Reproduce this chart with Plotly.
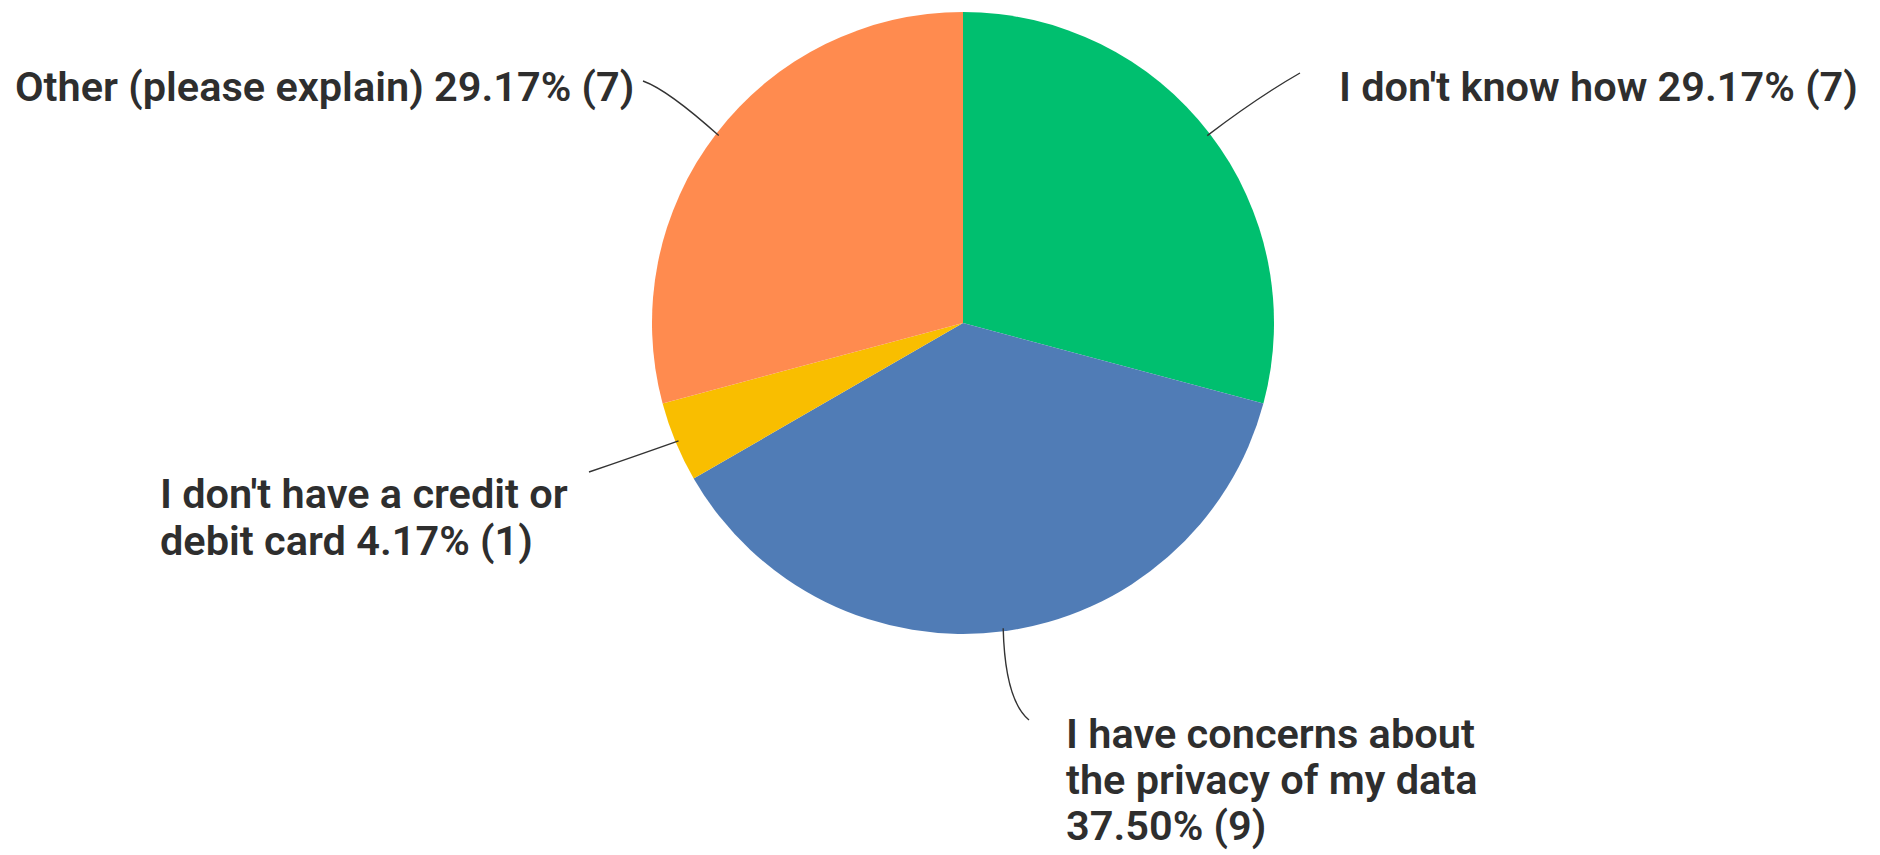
import math
import plotly.graph_objects as go

# Survey answers, in clockwise order starting at 12 o'clock
answers = [
    "I don't know how",
    "I have concerns about the privacy of my data",
    "I don't have a credit or debit card",
    "Other (please explain)",
]
counts = [7, 9, 1, 7]
percents = [29.17, 37.50, 4.17, 29.17]

# label text broken into the lines it is drawn on
label_lines = [
    ["I don't know how 29.17% (7)"],
    ["I have concerns about", "the privacy of my data", "37.50% (9)"],
    ["I don't have a credit or", "debit card 4.17% (1)"],
    ["Other (please explain) 29.17% (7)"],
]

colors = ["#00BF6F", "#507CB6", "#F9BE00", "#FF8B4F"]

W, H = 1880, 855
CX, CY, R = 963, 323, 311  # pie centre and radius in pixels
LINE_GAP = 46              # distance between label lines in pixels

FONT = dict(family="Roboto, sans-serif", size=41.5, color="#2e2e2e", weight=600)

# leader-line end, bezier control and first-line label anchor (pixels)
placement = [
    dict(end=(1300, 73), ctrl=(1258, 97), text=(1337, 86), xanchor="left"),
    dict(end=(1029, 720), ctrl=(1005, 700), text=(1064, 733), xanchor="left"),
    dict(end=(589, 472), ctrl=(630, 458), text=(158, 494), xanchor="left"),
    dict(end=(643, 81), ctrl=(668, 90), text=(636, 86), xanchor="right"),
]


def px(x):
    return x / W


def py(y):
    return 1 - y / H


fig = go.Figure(
    go.Pie(
        labels=answers,
        values=counts,
        sort=False,
        direction="clockwise",
        rotation=0,
        marker=dict(colors=colors, line=dict(width=0)),
        textinfo="none",
        hoverinfo="label+percent+value",
        showlegend=False,
        domain=dict(
            x=[px(CX - R), px(CX + R)],
            y=[py(CY + R), py(CY - R)],
        ),
    )
)

total = sum(counts)
start = 0.0
shapes, annotations = [], []
for i, n in enumerate(counts):
    sweep = 360.0 * n / total
    mid = math.radians(start + sweep / 2)
    start += sweep
    # leader starts on the rim at the slice's middle angle
    sx = CX + R * 0.99 * math.sin(mid)
    sy = CY - R * 0.99 * math.cos(mid)
    p = placement[i]
    ex, ey = p["end"]
    cx, cy = p["ctrl"]
    shapes.append(
        dict(
            type="path",
            xref="paper",
            yref="paper",
            path=f"M {px(sx)},{py(sy)} Q {px(cx)},{py(cy)} {px(ex)},{py(ey)}",
            line=dict(color="#333333", width=1.4),
        )
    )
    tx, ty = p["text"]
    for k, line in enumerate(label_lines[i]):
        annotations.append(
            dict(
                x=px(tx),
                y=py(ty + k * LINE_GAP),
                xref="paper",
                yref="paper",
                xanchor=p["xanchor"],
                yanchor="middle",
                align="left",
                text=line,
                showarrow=False,
                font=FONT,
            )
        )

fig.update_layout(
    width=W,
    height=H,
    margin=dict(l=0, r=0, t=0, b=0),
    paper_bgcolor="white",
    plot_bgcolor="white",
    shapes=shapes,
    annotations=annotations,
)

fig.write_html("out.html")
